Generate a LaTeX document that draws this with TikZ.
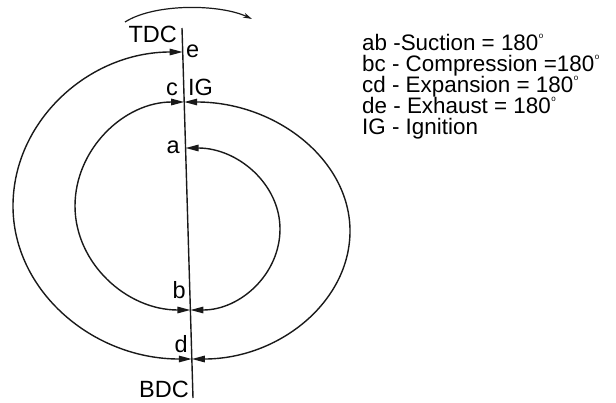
\documentclass[tikz,border=0pt]{standalone}
\usepackage{fontspec}
\setmainfont{Liberation Sans}
\usetikzlibrary{arrows.meta,calc}

\newcommand{\degsign}{\kern0.5pt\raisebox{11.5pt}{\fontsize{8}{8}\selectfont o}}

\begin{document}
\begin{tikzpicture}[
  x=1pt, y=1pt,
  font=\fontsize{23.5}{20.5}\selectfont,
  stroke/.style={line width=1.4pt, black!90},
  strokearc/.style={stroke, {Triangle[length=13pt,width=6.5pt]}-{Triangle[length=13pt,width=6.5pt]}},
  lbl/.style={inner sep=0pt, anchor=base east},
  lblr/.style={inner sep=0pt, anchor=base west},
  legend/.style={inner sep=0pt, anchor=base west, font=\fontsize{22.4}{21}\selectfont}
]
\useasboundingbox (0,0) rectangle (616,-402);

% ---------- dead-centre line ----------
\coordinate (top) at (182,-28);
\coordinate (bot) at (193,-398);
\draw[stroke] (top) -- (bot);

\coordinate (e) at (182.7,-52);
\coordinate (c) at (184.2,-102);
\coordinate (a) at (185.6,-148);
\coordinate (b) at (190.4,-310);
\coordinate (d) at (191.8,-359);

% widest points of each stroke
\coordinate (abR) at (280,-229);
\coordinate (bcL) at (75,-206);
\coordinate (cdR) at (350,-231);
\coordinate (deL) at (13,-206);

% ---------- strokes of the cycle ----------
\draw[strokearc] (a) .. controls +(52,0) and +(0,45) .. (abR) .. controls +(0,-45) and +(50,0) .. (b);
\draw[strokearc] (c) .. controls +(-60,0) and +(0,57) .. (bcL) .. controls +(0,-57) and +(-64,0) .. (b);
\draw[strokearc] (c) .. controls +(92,0) and +(0,71) .. (cdR) .. controls +(0,-71) and +(87,0) .. (d);
\draw[strokearc] (d) .. controls +(-99,0) and +(0,-85) .. (deL) .. controls +(0,85) and +(-94,0) .. (e);

% ---------- sense of rotation ----------
\coordinate (rotS) at (125,-22);
\coordinate (rotE) at (252,-19);
\draw[line width=1.2pt, black!90, -{Stealth[length=9pt,width=5pt]}] (rotS) .. controls (155,-3) and (220,-4) .. (rotE);

% ---------- point labels ----------
\node[lbl]  (tdc)  at (177,-42)  {TDC};
\node[lblr] (lbE)  at (186,-57)  {e};
\node[lbl]  (lbC)  at (178,-95)  {c};
\node[lblr] (lbIG) at (188,-95)  {IG};
\node[lbl]  (lbA)  at (180,-153) {a};
\node[lbl]  (lbB)  at (186,-298) {b};
\node[lbl]  (lbD)  at (188,-352) {d};
\node[lbl]  (bdc)  at (189,-397) {BDC};

% ---------- legend ----------
\node[legend] (lgAB) at (362,-50)  {ab -Suction = 180\degsign};
\node[legend] (lgBC) at (362,-71)  {bc - Compression =180\degsign};
\node[legend] (lgCD) at (362,-92)  {cd - Expansion = 180\degsign};
\node[legend] (lgDE) at (362,-113) {de - Exhaust = 180\degsign};
\node[legend] (lgIG) at (362,-134) {IG - Ignition};

\end{tikzpicture}
\end{document}
